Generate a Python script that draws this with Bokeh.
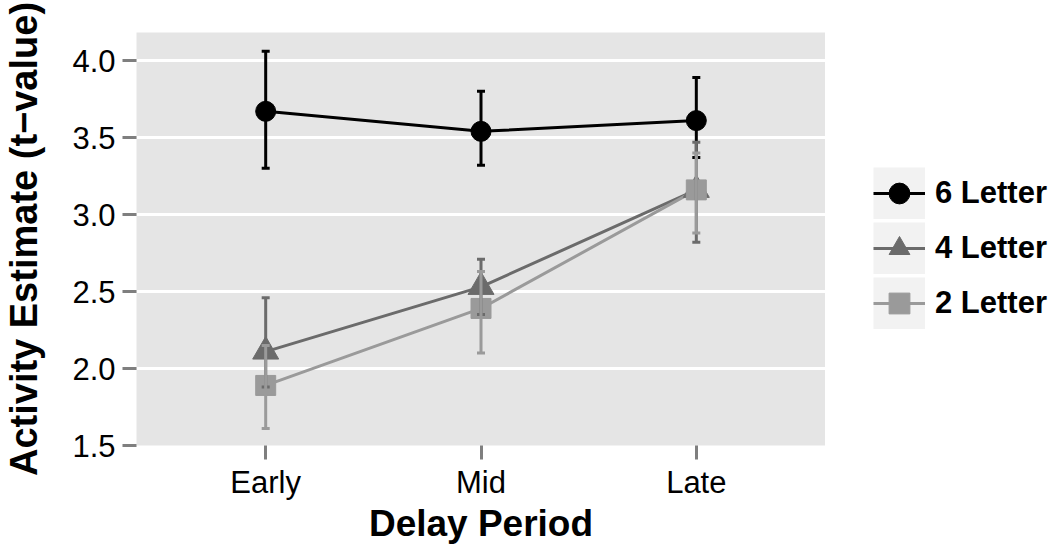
from bokeh.plotting import figure
from bokeh.layouts import row
from bokeh.models import (FactorRange, Range1d, FixedTicker, NumeralTickFormatter, Whisker,
                          TeeHead, ColumnDataSource, Legend, LegendItem)
from bokeh.embed import file_html
from bokeh.resources import INLINE

# ---- data ----
periods = ["Early", "Mid", "Late"]
groups = ["6 Letter", "4 Letter", "2 Letter"]
mean_6 = [3.67, 3.54, 3.61]
lower_6 = [3.30, 3.32, 3.37]
upper_6 = [4.06, 3.80, 3.89]
mean_4 = [2.11, 2.53, 3.16]
lower_4 = [1.88, 2.35, 2.82]
upper_4 = [2.46, 2.71, 3.47]
mean_2 = [1.89, 2.39, 3.16]
lower_2 = [1.61, 2.10, 2.88]
upper_2 = [2.15, 2.63, 3.40]
y_ticks = [1.5, 2.0, 2.5, 3.0, 3.5, 4.0]

# ---- styles ----
colors = ["#000000", "#6b6b6b", "#9a9a9a"]
markers = ["circle", "triangle", "square"]
sizes = [20, 26, 20]
FONT = "Liberation Sans"

p = figure(width=825, height=547,
           x_range=FactorRange(factors=periods, range_padding=0.1, range_padding_units="absolute"),
           y_range=Range1d(1.5, 4.182),
           output_backend="svg", toolbar_location=None,
           min_border_left=135, min_border_right=0, min_border_top=32, min_border_bottom=102,
           background_fill_color="#e5e5e5", border_fill_color="white", outline_line_color=None)

# axes
for ax in (p.xaxis[0], p.yaxis[0]):
    ax.axis_line_color = None
    ax.major_tick_line_color = "#7f7f7f"
    ax.major_tick_line_width = 3
    ax.major_tick_out = 14
    ax.major_tick_in = 0
    ax.minor_tick_line_color = None
    ax.major_label_text_font = FONT
    ax.major_label_text_font_size = "31px"
    ax.major_label_text_color = "#000000"
    ax.axis_label_text_font = FONT
    ax.axis_label_text_font_style = "bold"
    ax.axis_label_text_color = "#000000"

p.xaxis.axis_label = "Delay Period"
p.xaxis.axis_label_text_font_size = "37px"
p.xaxis.major_label_standoff = 5
p.xaxis.axis_label_standoff = 0

p.yaxis.ticker = FixedTicker(ticks=y_ticks)
p.yaxis.formatter = NumeralTickFormatter(format="0.0")
p.yaxis.axis_label = "Activity Estimate (t\u2212value)"
p.yaxis.axis_label_text_font_size = "38px"
p.yaxis.major_label_standoff = 7
p.yaxis.axis_label_standoff = 24

p.xgrid.grid_line_color = None
p.ygrid.ticker = FixedTicker(ticks=y_ticks)
p.ygrid.grid_line_color = "white"
p.ygrid.grid_line_width = 3

series = [(mean_6, lower_6, upper_6), (mean_4, lower_4, upper_4), (mean_2, lower_2, upper_2)]
sources = [ColumnDataSource(dict(x=periods, mean=m, lower=lo, upper=up)) for m, lo, up in series]

for src, c in zip(sources, colors):
    p.line(x="x", y="mean", source=src, line_color=c, line_width=3)
for src, c, mk, sz in zip(sources, colors, markers, sizes):
    p.scatter(x="x", y="mean", source=src, marker=mk, size=sz,
              fill_color=c, line_color=c, line_width=1)
for src, c in zip(sources, colors):
    w = Whisker(base="x", lower="lower", upper="upper", source=src, dimension="height",
                line_color=c, line_width=3, level="overlay",
                upper_head=TeeHead(size=8, line_color=c, line_width=3),
                lower_head=TeeHead(size=8, line_color=c, line_width=3))
    p.add_layout(w)

# ---- legend panel (same sources, hidden renderers used only as legend keys) ----
q = figure(width=225, height=547,
           x_range=FactorRange(factors=periods), y_range=Range1d(1.5, 4.182),
           output_backend="svg", toolbar_location=None,
           x_axis_type=None, y_axis_type=None,
           min_border_left=0, min_border_right=0, min_border_top=0, min_border_bottom=0,
           background_fill_color="white", border_fill_color="white", outline_line_color=None)
q.grid.visible = False

items = []
for g, src, c, mk in zip(groups, sources, colors, markers):
    kb = q.line(x="x", y="mean", source=src, line_color="#f2f2f2", line_width=52, visible=False)
    kl = q.line(x="x", y="mean", source=src, line_color=c, line_width=3, visible=False)
    kp = q.scatter(x="x", y="mean", source=src, marker=mk, fill_color=c, line_color=c,
                   line_width=1, visible=False)
    items.append(LegendItem(label=g, renderers=[kb, kl, kp]))

legend = Legend(items=items, location=(48, 116), orientation="vertical",
                glyph_width=52, glyph_height=52, spacing=3, label_standoff=10,
                padding=0, margin=0, border_line_color=None, background_fill_alpha=0,
                inactive_fill_alpha=0,
                label_text_font=FONT, label_text_font_style="bold",
                label_text_font_size="31px", label_text_color="#000000")
q.add_layout(legend, "center")

open("out.html", "w").write(file_html(row(p, q), INLINE))
